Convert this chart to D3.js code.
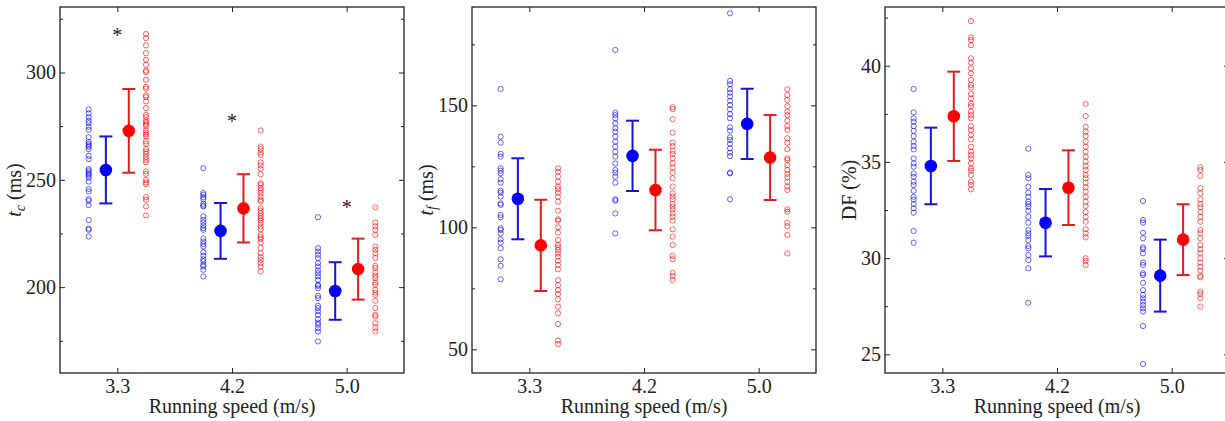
<!DOCTYPE html>
<html>
<head>
<meta charset="utf-8">
<script src="https://cdn.jsdelivr.net/npm/d3@7"></script>
<style>
  body { margin: 0; background: #fff; }
  svg { display: block; }
  text { font-family: 'Liberation Serif', 'DejaVu Serif', serif; fill: #222; }
</style>
</head>
<body>
<svg id="chart" width="1225" height="421"></svg>
<script>
// categories
const speeds = ['3.3', '4.2', '5.0'];

// contact time t_c (ms), individual runners
const tcBlue = [
  [282.8, 280.9, 279.2, 277.5, 276.4, 274.7, 273.3, 269.9, 267.7, 266.8, 266.0, 265.4, 264.3, 261.2, 259.6, 255.0, 254.3, 253.4, 252.6, 251.9, 250.9, 249.2, 245.7, 244.6, 241.0, 240.2, 238.2, 231.2, 227.3, 226.7, 223.6],
  [255.4, 243.8, 243.0, 241.9, 241.0, 238.8, 238.0, 237.6, 232.9, 231.4, 230.1, 228.7, 227.5, 226.7, 222.7, 221.3, 220.0, 218.9, 216.3, 214.6, 213.0, 212.0, 210.4, 209.6, 208.1, 205.0],
  [232.6, 218.2, 216.6, 215.1, 213.5, 211.2, 209.6, 207.8, 206.5, 205.0, 203.4, 201.1, 200.6, 199.5, 196.0, 194.9, 191.3, 190.2, 188.7, 187.1, 185.1, 183.5, 182.5, 180.9, 179.3, 174.7]
];
const tcRed = [
  [317.9, 316.0, 312.6, 309.0, 305.9, 303.6, 300.9, 300.2, 296.6, 293.3, 292.5, 289.3, 288.5, 286.5, 283.4, 280.3, 279.2, 277.6, 276.7, 275.9, 275.2, 273.0, 272.0, 271.1, 270.2, 267.9, 266.8, 264.3, 263.2, 262.1, 260.6, 259.3, 258.1, 253.9, 252.8, 250.0, 248.8, 248.0, 241.9, 240.7, 237.6, 233.4],
  [273.0, 265.5, 264.3, 262.7, 261.6, 258.1, 256.7, 255.1, 252.6, 248.4, 247.7, 246.1, 245.0, 243.8, 242.2, 240.7, 239.9, 236.8, 235.7, 234.5, 233.2, 232.1, 231.1, 229.8, 228.3, 227.0, 224.4, 223.3, 222.4, 220.8, 218.2, 215.8, 214.0, 212.7, 211.2, 209.6, 207.3],
  [237.1, 230.1, 228.3, 226.7, 224.4, 218.9, 217.4, 215.8, 213.5, 209.9, 208.9, 206.8, 205.3, 204.2, 202.2, 201.1, 198.8, 197.5, 196.4, 193.6, 190.2, 187.1, 186.3, 183.2, 181.2, 179.3]
];
const tcBlueMean = [254.6, 226.2, 198.2];
const tcBlueSd = [15.6, 13.0, 13.4];
const tcRedMean = [272.8, 236.7, 208.4];
const tcRedSd = [19.5, 15.9, 14.2];
const tcStars = [320, 280, 240];

// flight time t_f (ms)
const tfBlue = [
  [156.7, 137.2, 134.7, 130.1, 129.0, 124.2, 123.2, 122.1, 119.7, 118.3, 115.0, 114.2, 112.6, 109.8, 109.2, 105.1, 104.1, 99.6, 98.9, 97.5, 95.1, 93.7, 91.4, 86.9, 84.2, 78.7],
  [172.7, 147.0, 146.0, 144.7, 142.6, 140.6, 139.2, 137.2, 135.1, 133.1, 131.0, 129.0, 126.2, 123.5, 122.4, 120.8, 118.3, 111.5, 110.9, 105.7, 97.5],
  [187.7, 160.0, 158.7, 156.6, 155.2, 153.6, 151.9, 150.1, 148.4, 146.4, 144.7, 141.0, 139.6, 136.9, 135.8, 134.2, 132.4, 130.6, 129.2, 122.4, 122.1, 111.5]
];
const tfRed = [
  [124.2, 122.8, 120.8, 118.7, 116.7, 115.6, 114.2, 112.6, 110.5, 106.8, 103.3, 102.7, 100.0, 97.8, 94.8, 92.8, 91.8, 90.7, 89.3, 88.0, 86.3, 84.6, 82.8, 78.4, 76.4, 74.3, 72.7, 70.5, 67.5, 64.8, 60.4, 53.6, 52.2],
  [149.2, 148.4, 144.3, 138.8, 134.7, 133.3, 131.4, 130.1, 128.3, 126.2, 124.5, 122.4, 120.1, 116.7, 113.9, 112.6, 111.5, 109.6, 108.5, 107.4, 105.7, 104.4, 102.7, 99.2, 96.2, 92.8, 88.3, 86.9, 81.4, 80.1, 78.4],
  [156.6, 154.2, 152.2, 149.7, 147.4, 146.0, 143.7, 141.5, 139.9, 136.5, 134.7, 132.0, 128.3, 127.6, 125.5, 123.5, 121.9, 120.5, 118.7, 116.7, 115.3, 107.4, 106.4, 101.9, 100.5, 96.9, 89.3]
];
const tfBlueMean = [111.7, 129.3, 142.4];
const tfBlueSd = [16.6, 14.4, 14.4];
const tfRedMean = [92.6, 115.3, 128.6];
const tfRedSd = [18.7, 16.5, 17.4];

// duty factor DF (%)
const dfBlue = [
  [38.79, 37.57, 37.26, 37.09, 36.86, 36.62, 36.34, 36.05, 35.83, 35.65, 35.18, 34.92, 34.75, 34.40, 34.23, 33.97, 33.80, 33.50, 33.19, 33.05, 32.81, 32.59, 32.36, 31.41, 30.80],
  [35.69, 34.32, 34.15, 33.71, 33.40, 33.19, 32.93, 32.81, 32.67, 32.46, 32.15, 31.84, 31.46, 31.29, 31.15, 30.94, 30.63, 30.51, 30.16, 29.90, 29.47, 27.68],
  [32.97, 31.98, 31.84, 31.32, 31.03, 30.56, 30.46, 30.25, 29.77, 29.64, 29.21, 29.12, 28.72, 28.34, 28.08, 27.91, 27.74, 27.56, 27.39, 27.22, 26.47, 24.50]
];
const dfRed = [
  [42.32, 41.47, 41.33, 41.07, 40.38, 40.16, 39.86, 39.60, 39.26, 39.00, 38.87, 38.53, 38.30, 38.04, 37.90, 37.61, 37.44, 37.26, 36.86, 36.66, 36.40, 36.17, 35.79, 35.53, 35.36, 35.18, 34.92, 34.66, 34.54, 34.32, 33.97, 33.80, 33.57],
  [38.01, 37.38, 36.83, 36.57, 36.35, 36.05, 35.79, 35.53, 35.27, 35.01, 34.79, 34.58, 34.32, 34.15, 33.92, 33.68, 33.45, 33.19, 32.93, 32.71, 32.40, 32.15, 31.89, 31.50, 31.29, 31.08, 29.99, 29.85, 29.64],
  [34.72, 34.58, 34.27, 33.63, 33.37, 33.05, 32.81, 32.64, 32.41, 32.15, 31.89, 31.46, 31.29, 31.03, 30.68, 30.46, 30.25, 29.99, 29.77, 29.55, 29.35, 29.07, 29.00, 28.26, 28.14, 27.91, 27.48]
];
const dfBlueMean = [34.79, 31.84, 29.09];
const dfBlueSd = [1.99, 1.75, 1.87];
const dfRedMean = [37.37, 33.66, 30.96];
const dfRedSd = [2.32, 1.94, 1.84];

// y tick labels
const tcTicks = [200, 250, 300];
const tfTicks = [50, 100, 150];
const dfTicks = [25, 30, 35, 40];

const plotTop = 7, plotBottom = 373, panelW = 344;
const blueDot = '#0000ff', redDot = '#ff0000';
const blueBar = '#1414d2', redBar = '#dc1e1e';

const panels = [
  { left: 60, domain: [160, 330.5], ticks: tcTicks, step: 50, blue: tcBlue, red: tcRed,
    bm: tcBlueMean, bs: tcBlueSd, rm: tcRedMean, rs: tcRedSd, label: 'tc', labelX: 21, stars: tcStars },
  { left: 472, domain: [40.3, 190.3], ticks: tfTicks, step: 50, blue: tfBlue, red: tfRed,
    bm: tfBlueMean, bs: tfBlueSd, rm: tfRedMean, rs: tfRedSd, label: 'tf', labelX: 433 },
  { left: 885, domain: [24.03, 43.05], ticks: dfTicks, step: 5, blue: dfBlue, red: dfRed,
    bm: dfBlueMean, bs: dfBlueSd, rm: dfRedMean, rs: dfRedSd, label: 'df', labelX: 856 }
];

const svg = d3.select('#chart');
svg.append('rect').attr('width', 1225).attr('height', 421).attr('fill', '#fff');

panels.forEach(p => {
  const right = p.left + panelW;
  const x = d3.scaleLinear().domain([0.5, 3.5]).range([p.left, right]);
  const y = d3.scaleLinear().domain(p.domain).range([plotBottom, plotTop]);
  const minor = p.ticks.map(t => t - p.step / 2).concat([p.ticks[p.ticks.length - 1] + p.step / 2])
    .filter(v => v > p.domain[0] && v < p.domain[1]);
  const cats = speeds.map((s, i) => i + 1);

  const g = svg.append('g');

  // axes, ticks pointing inward
  const ax = (axis, tx, ty) => g.append('g').attr('transform', `translate(${tx},${ty})`).call(axis)
    .call(s => s.select('.domain').remove())
    .call(s => s.selectAll('line').attr('stroke', '#222').attr('stroke-width', 1))
    .call(s => s.selectAll('text').attr('font-family', null).attr('font-size', 20).attr('fill', '#222'));

  ax(d3.axisLeft(y).tickValues(p.ticks).tickSize(-5).tickPadding(4), p.left, 0);
  ax(d3.axisLeft(y).tickValues(minor).tickSize(-3).tickFormat(''), p.left, 0);
  ax(d3.axisRight(y).tickValues(p.ticks).tickSize(-5).tickFormat(''), right, 0);
  ax(d3.axisRight(y).tickValues(minor).tickSize(-3).tickFormat(''), right, 0);
  ax(d3.axisBottom(x).tickValues(cats).tickSize(-5).tickPadding(6).tickFormat((d, i) => speeds[i]), 0, plotBottom);
  ax(d3.axisTop(x).tickValues(cats).tickSize(-5).tickFormat(''), 0, plotTop);

  g.append('rect')
    .attr('x', p.left).attr('y', plotTop)
    .attr('width', panelW).attr('height', plotBottom - plotTop)
    .attr('fill', 'none').attr('stroke', '#222').attr('stroke-width', 1.3);

  // individual points
  const groups = [
    { vals: p.blue, off: -0.25, color: blueDot },
    { vals: p.red, off: 0.25, color: redDot }
  ];
  groups.forEach(gr => {
    gr.vals.forEach((vals, i) => {
      g.selectAll(null).data(vals).enter().append('circle')
        .attr('cx', x(i + 1 + gr.off))
        .attr('cy', d => y(d))
        .attr('r', 2.6)
        .attr('fill', 'none')
        .attr('stroke', gr.color)
        .attr('stroke-opacity', 0.6)
        .attr('stroke-width', 1);
    });
  });

  // mean +- sd
  const means = [
    { m: p.bm, s: p.bs, off: -0.1, dot: blueDot, bar: blueBar },
    { m: p.rm, s: p.rs, off: 0.1, dot: redDot, bar: redBar }
  ];
  means.forEach(mg => {
    mg.m.forEach((m, i) => {
      const cx = x(i + 1 + mg.off);
      const lo = y(m - mg.s[i]), hi = y(m + mg.s[i]);
      g.append('line').attr('x1', cx).attr('x2', cx).attr('y1', lo).attr('y2', hi)
        .attr('stroke', mg.bar).attr('stroke-width', 2);
      [lo, hi].forEach(yy => g.append('line')
        .attr('x1', cx - 6.5).attr('x2', cx + 6.5).attr('y1', yy).attr('y2', yy)
        .attr('stroke', mg.bar).attr('stroke-width', 2));
      g.append('circle').attr('cx', cx).attr('cy', y(m)).attr('r', 6.3).attr('fill', mg.dot);
    });
  });

  // significance markers
  if (p.stars) {
    g.selectAll(null).data(p.stars).enter().append('text')
      .attr('x', (d, i) => x(i + 1))
      .attr('y', d => y(d))
      .attr('dy', '0.62em')
      .attr('text-anchor', 'middle')
      .attr('font-size', 20)
      .attr('fill', '#333')
      .text('*');
  }

  // x label
  g.append('text')
    .attr('x', (p.left + right) / 2).attr('y', 413)
    .attr('text-anchor', 'middle').attr('font-size', 20)
    .text('Running speed (m/s)');

  // y label
  const yl = g.append('text')
    .attr('transform', `translate(${p.labelX},${(plotTop + plotBottom) / 2}) rotate(-90)`)
    .attr('text-anchor', 'middle').attr('font-size', 20);
  if (p.label === 'df') {
    yl.text('DF (%)');
  } else {
    yl.append('tspan').attr('font-style', 'italic').text('t');
    yl.append('tspan').attr('font-style', 'italic').attr('font-size', 14).attr('dy', 4)
      .text(p.label === 'tc' ? 'c' : 'f');
    yl.append('tspan').attr('dy', -4).text(' (ms)');
  }
});
</script>
</body>
</html>
